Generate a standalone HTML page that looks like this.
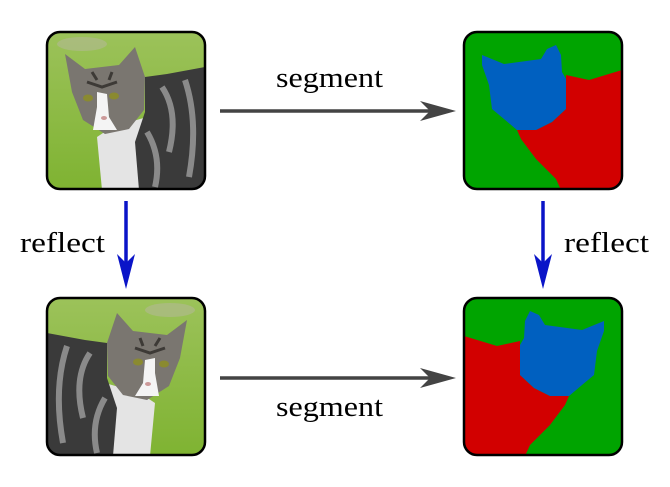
<!DOCTYPE html>
<html><head><style>
html,body{margin:0;padding:0;background:#fff;width:670px;height:487px;overflow:hidden}
</style></head><body>
<svg width="670" height="487" viewBox="0 0 670 487" xmlns="http://www.w3.org/2000/svg">
<defs>
<clipPath id="cp"><rect x="0" y="0" width="158" height="157" rx="13"/></clipPath>
<linearGradient id="gr" x1="0" y1="0" x2="0" y2="1"><stop offset="0" stop-color="#9cc25a"/><stop offset="1" stop-color="#7fb332"/></linearGradient>
<g id="seg">
<g clip-path="url(#cp)">
<rect width="158" height="157" fill="#00a400"/>
<polygon fill="#d20000" points="102,43 125,48 158,38 158,158 97,158 92,147 72,127 57,107 53,98 72,98 88,90 102,77"/>
<polygon fill="#0060c0" points="18,23 40,32 77,27 83,17 92,13 97,23 98,40 102,47 102,77 88,90 72,98 53,98 40,87 28,77 25,53 18,33"/>
</g>
<rect x="0" y="0" width="158" height="157" rx="13" fill="none" stroke="#000" stroke-width="2.5"/>
</g>
<g id="cat">
<g clip-path="url(#cp)">
<rect width="158" height="157" fill="url(#gr)"/>
<ellipse cx="35" cy="12" rx="25" ry="7" fill="#b8b8a0" opacity="0.5"/>
<path d="M55,158 L50,105 L65,95 L100,85 L105,158Z" fill="#e4e4e4"/>
<path d="M98,45 L120,42 L158,35 L158,158 L92,158 L88,110 L98,80Z" fill="#3a3a3a"/>
<path d="M115,55 Q132,80 122,120 M138,48 Q152,90 142,145 M100,100 Q115,125 108,155" stroke="#8a8a8a" stroke-width="6" fill="none"/>
<path d="M18,22 L38,37 L72,33 L88,15 L98,45 L97,78 L82,97 L58,102 L36,88 L25,60Z" fill="#7a7670"/>
<path d="M40,50 L55,55 L70,50 M45,40 L50,48 M65,40 L62,48" stroke="#3d3a36" stroke-width="3" fill="none"/>
<path d="M50,60 L60,62 L62,85 L70,98 L46,98 L50,75Z" fill="#f4f4f4"/>
<ellipse cx="41" cy="66" rx="5" ry="3.5" fill="#8a8a30"/>
<ellipse cx="67" cy="64" rx="5" ry="3.5" fill="#8a8a30"/>
<ellipse cx="57" cy="86" rx="3" ry="2" fill="#c99"/>
</g>
<rect x="0" y="0" width="158" height="157" rx="13" fill="none" stroke="#000" stroke-width="2.5"/>
</g>
</defs>
<use href="#cat" x="47" y="32"/>
<use href="#seg" x="464" y="32"/>
<use href="#cat" transform="translate(205,298) scale(-1,1)"/>
<use href="#seg" transform="translate(622,298) scale(-1,1)"/>
<g stroke="#444" stroke-width="3.5" fill="#444">
<line x1="220" y1="111" x2="440" y2="111"/>
<line x1="220" y1="378" x2="440" y2="378"/>
</g>
<polygon fill="#444" points="456,111 420,101 430,111 420,121"/>
<polygon fill="#444" points="456,378 420,368 430,378 420,388"/>
<g stroke="#0a14c8" stroke-width="3.5">
<line x1="126" y1="201" x2="126" y2="265"/>
<line x1="543" y1="201" x2="543" y2="265"/>
</g>
<polygon fill="#0a14c8" points="126,289 117,254 126,263 135,254"/>
<polygon fill="#0a14c8" points="543,289 534,254 543,263 552,254"/>
<g font-family="'Liberation Serif',serif" font-size="29" fill="#000">
<text x="276" y="87" textLength="107" lengthAdjust="spacingAndGlyphs">segment</text>
<text x="276" y="416" textLength="107" lengthAdjust="spacingAndGlyphs">segment</text>
<text x="20" y="252" textLength="85" lengthAdjust="spacingAndGlyphs">reflect</text>
<text x="564" y="252" textLength="85" lengthAdjust="spacingAndGlyphs">reflect</text>
</g>
</svg>
</body></html>
